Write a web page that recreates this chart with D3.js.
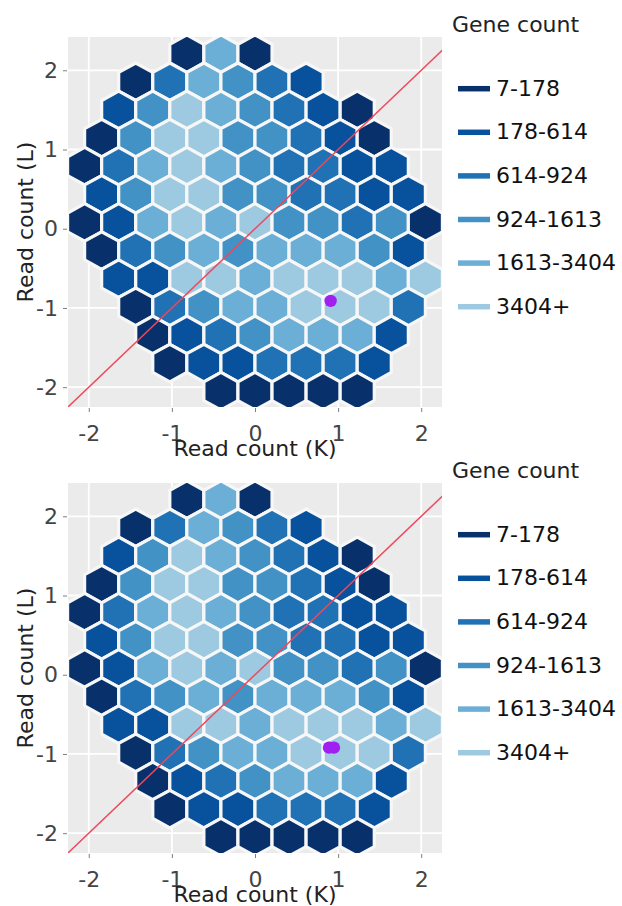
<!DOCTYPE html>
<html><head><meta charset="utf-8">
<script src="https://cdn.jsdelivr.net/npm/d3@7"></script>
<style>
body{margin:0;background:#fff;}
text{font-family:"DejaVu Sans",Verdana,sans-serif;}
</style>
</head><body>
<svg id="chart" width="622" height="906"></svg>
<script>
// ---- data ----
const legendTitle = "Gene count";
const legendLabels = ["7-178","178-614","614-924","924-1613","1613-3404","3404+"];
const legendColors = ["#08306b","#08519c","#2171b5","#4292c6","#6baed6","#9ecae1"];
const tickValues = [-2,-1,0,1,2];
const xTitle = "Read count (K)";
const yTitle = "Read count (L)";
const xDomain = [-2.25, 2.25];
const yDomain = [-2.25, 2.42];
// hexbin lattice (data units)
const binWidth = 0.41;
const binTopY = 2.21;
// first column index of each hex row (top to bottom)
const rowStart = [-2,-4,-4,-5,-5,-5,-5,-5,-4,-4,-3,-3,-1];
// count class of each hex in each row (index into legendLabels)
const rowClasses = [
  [0,4,0],
  [0,2,4,3,2,1],
  [1,3,5,4,3,2,1,0],
  [0,3,5,5,3,3,2,1,0],
  [0,2,4,5,4,3,2,2,1,1],
  [1,3,5,5,3,3,2,2,1,1],
  [0,1,4,5,4,5,3,3,2,3,0],
  [0,2,3,4,3,4,4,4,3,1],
  [1,1,5,5,4,5,5,5,4,5],
  [0,2,3,4,4,5,5,5,2],
  [0,1,2,3,4,4,4,1],
  [0,1,1,2,2,2,1],
  [0,0,0,0,0]
];
const refLine = [-2.5, 2.5];
const markerTopX = [0.91];
const markerTopY = [-0.91];
const markerBottomX = [0.89, 0.95];
const markerBottomY = [-0.92, -0.92];

// ---- layout ----
const W = 622, H = 906;
const plotL = 68, plotR = 442, plotT = 37, plotB = 407;
const panelOffsets = [0, 446];
const svg = d3.select("#chart");

const x = d3.scaleLinear().domain(xDomain).range([plotL, plotR]);
const y = d3.scaleLinear().domain(yDomain).range([plotB, plotT]);

// build hex bins
const hexes = [];
const binH = binWidth * Math.sqrt(3) / 2;
const hexR = binWidth / Math.sqrt(3);
rowClasses.forEach((row, r) => {
  row.forEach((cls, i) => {
    const k = rowStart[r] + i;
    const cx = (k + (r % 2 ? 0.5 : 0)) * binWidth;
    const cy = binTopY - r * binH;
    hexes.push({cx, cy, cls});
  });
});
function hexPath(d) {
  const pts = d3.range(6).map(j => {
    const a = (30 + 60 * j) * Math.PI / 180;
    return [x(d.cx + hexR * Math.cos(a)), y(d.cy + hexR * Math.sin(a))];
  });
  return "M" + pts.map(p => p.join(",")).join("L") + "Z";
}

function drawPanel(off, idx, mx, my) {
  const g = svg.append("g").attr("transform", `translate(0,${off})`);
  const clipId = "clip" + idx;
  g.append("clipPath").attr("id", clipId).append("rect")
    .attr("x", plotL).attr("y", plotT).attr("width", plotR - plotL).attr("height", plotB - plotT);
  g.append("rect").attr("x", plotL).attr("y", plotT)
    .attr("width", plotR - plotL).attr("height", plotB - plotT).attr("fill", "#ebebeb");
  // grid
  g.append("g").selectAll("line.vx").data(tickValues).join("line")
    .attr("x1", d => x(d)).attr("x2", d => x(d)).attr("y1", plotT).attr("y2", plotB)
    .attr("stroke", "#fff").attr("stroke-width", 1.8);
  g.append("g").selectAll("line.hy").data(tickValues).join("line")
    .attr("y1", d => y(d)).attr("y2", d => y(d)).attr("x1", plotL).attr("x2", plotR)
    .attr("stroke", "#fff").attr("stroke-width", 1.8);
  const inner = g.append("g").attr("clip-path", `url(#${clipId})`);
  inner.selectAll("path.hex").data(hexes).join("path")
    .attr("class", "hex")
    .attr("d", hexPath)
    .attr("fill", d => legendColors[d.cls])
    .attr("stroke", "#f7f7f7").attr("stroke-width", 3.2).attr("stroke-linejoin", "round");
  inner.append("line")
    .attr("x1", x(refLine[0])).attr("y1", y(refLine[0]))
    .attr("x2", x(refLine[1])).attr("y2", y(refLine[1]))
    .attr("stroke", "#f0475a").attr("stroke-width", 1.5);
  inner.selectAll("circle.pt").data(mx.map((v, i) => [v, my[i]])).join("circle")
    .attr("cx", d => x(d[0])).attr("cy", d => y(d[1])).attr("r", 6.2)
    .attr("fill", "#a020f0");
  // axes
  const xa = g.append("g").attr("transform", `translate(0,${plotB + 1})`)
    .call(d3.axisBottom(x).tickValues(tickValues).tickSize(4).tickPadding(13).tickFormat(d => String(d)));
  const ya = g.append("g").attr("transform", `translate(${plotL - 1},0)`)
    .call(d3.axisLeft(y).tickValues(tickValues).tickSize(4).tickPadding(5).tickFormat(d => String(d)));
  [xa, ya].forEach(a => {
    a.select(".domain").remove();
    a.selectAll(".tick line").attr("stroke", "#7f7f7f");
    a.selectAll(".tick text").attr("fill", "#444").style("font-size", "22px")
      .style("font-family", "'DejaVu Sans',Verdana,sans-serif");
  });
  g.append("text").attr("x", (plotL + plotR) / 2).attr("y", 456)
    .attr("text-anchor", "middle").attr("fill", "#222").style("font-size", "22px").text(xTitle);
  g.append("text").attr("transform", `translate(33,${(plotT + plotB) / 2}) rotate(-90)`)
    .attr("text-anchor", "middle").attr("fill", "#222").style("font-size", "22px").text(yTitle);
  // legend
  g.append("text").attr("x", 452).attr("y", 31.5).attr("fill", "#222")
    .style("font-size", "22px").text(legendTitle);
  const items = g.selectAll("g.leg").data(legendLabels).join("g")
    .attr("transform", (d, i) => `translate(0,${88.7 + i * 43.6})`);
  items.append("line").attr("x1", 458).attr("x2", 490).attr("y1", 0).attr("y2", 0)
    .attr("stroke", (d, i) => legendColors[i]).attr("stroke-width", 5.5);
  items.append("text").attr("x", 496).attr("y", 7).attr("fill", "#111")
    .style("font-size", "22px").text(d => d);
}
drawPanel(panelOffsets[0], 0, markerTopX, markerTopY);
drawPanel(panelOffsets[1], 1, markerBottomX, markerBottomY);
</script>
</body></html>
